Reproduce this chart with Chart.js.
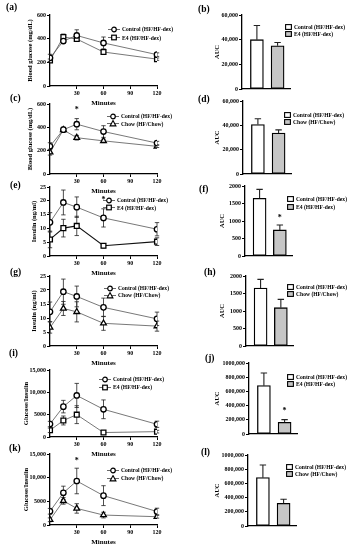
<!DOCTYPE html>
<html lang="en">
<head>
<meta charset="UTF-8">
<title>Glucose and insulin tolerance panels</title>
<script src="https://cdn.jsdelivr.net/npm/chart.js"></script>
<style>
  body { margin: 0; background: #fff; font-family: 'Liberation Serif', serif; }
  #fig { position: relative; width: 355px; height: 550px; overflow: hidden; }
  #fig canvas { position: absolute; }
  .tag { position: absolute; font-weight: bold; font-size: 9.5px; line-height: 1; }
  .leg { position: absolute; font-weight: bold; font-size: 5.6px; white-space: nowrap; }
  .leg div { display: flex; align-items: center; }
  .leg svg { margin-right: 2px; flex: none; }
</style>
</head>
<body>
<div id="fig"></div>
<script>
// time axis
const minutes = [0, 15, 30, 60, 120];
const minuteTicks = [30, 60, 90, 120];
const groups = [1, 2];

// blood glucose (mg/dL), mean and SEM
const glucoseControl = [238, 380, 427, 364, 265];
const glucoseControlErr = [30, 20, 48, 50, 15];
const glucoseE4 = [216, 414, 397, 287, 227];
const glucoseE4Err = [12, 25, 20, 20, 10];
const glucoseChow = [187, 378, 311, 284, 237];
const glucoseChowErr = [25, 12, 20, 15, 10];

// insulin (ng/ml)
const insulinControl = [12.2, 19.4, 17.7, 13.8, 9.7];
const insulinControlErr = [3.5, 4.5, 3.7, 3.3, 2.4];
const insulinE4 = [6.0, 10.1, 10.9, 3.7, 5.2];
const insulinE4Err = [3.0, 3.2, 3.5, 0.8, 1.4];
const insulinChow = [6.6, 13.4, 12.2, 8.1, 7.1];
const insulinChowErr = [2.0, 2.5, 3.6, 2.5, 1.8];

// glucose x insulin
const ratioControl = [2900, 6800, 9300, 6200, 2850];
const ratioControlErr = [600, 1400, 2700, 2100, 700];
const ratioE4 = [1500, 3700, 5000, 1000, 1200];
const ratioE4Err = [500, 1000, 2000, 300, 300];
const ratioChow = [1100, 5100, 3500, 2100, 1750];
const ratioChowErr = [400, 700, 1000, 600, 300];

// AUC bars: [control, treatment]
const aucGlucoseE4 = [40000, 35000];
const aucGlucoseE4Err = [11500, 2700];
const aucGlucoseChow = [40700, 33600];
const aucGlucoseChowErr = [4700, 2700];
const aucInsulinE4 = [1650, 745];
const aucInsulinE4Err = [255, 140];
const aucInsulinChow = [1655, 1095];
const aucInsulinChowErr = [250, 238];
const aucRatioE4 = [681000, 164000];
const aucRatioE4Err = [178000, 38000];
const aucRatioChow = [681000, 319000];
const aucRatioChowErr = [178000, 57000];

const CONTROL = 'Control (HF/HF-dex)';
const E4 = 'E4 (HF/HF-dex)';
const CHOW = 'Chow (HF/Chow)';

const SERIF = "'Liberation Serif', 'Times New Roman', serif";
const tickFont = { family: SERIF, size: 6, weight: 'bold' };
const titleFont = { family: SERIF, size: 6.5, weight: 'bold' };

const fig = document.getElementById('fig');

function makeCanvas(left, top, w, h) {
  const c = document.createElement('canvas');
  c.width = w; c.height = h;
  c.style.left = left + 'px';
  c.style.top = top + 'px';
  fig.appendChild(c);
  return c;
}

// error bars drawn through the chart's own y scale
function drawErrors(chart, both) {
  const { ctx, scales: { y } } = chart;
  ctx.save();
  ctx.strokeStyle = '#222';
  ctx.lineWidth = both ? 0.8 : 1.1;
  chart.data.datasets.forEach((ds, i) => {
    if (!ds.err) return;
    const meta = chart.getDatasetMeta(i);
    meta.data.forEach((el, j) => {
      const v = ds.data[j].y, e = ds.err[j];
      const x = el.x;
      const yTop = y.getPixelForValue(v + e);
      const yBot = both ? y.getPixelForValue(v - e) : y.getPixelForValue(v);
      const cap = both ? 2.2 : 3.2;
      ctx.beginPath();
      ctx.moveTo(x, yBot); ctx.lineTo(x, yTop);
      ctx.moveTo(x - cap, yTop); ctx.lineTo(x + cap, yTop);
      if (both) { ctx.moveTo(x - cap, yBot); ctx.lineTo(x + cap, yBot); }
      ctx.stroke();
    });
  });
  ctx.restore();
}

const errorBars = {
  id: 'errorBars',
  beforeDatasetsDraw(chart) { if (chart.config.type === 'line') drawErrors(chart, true); },
  afterDatasetsDraw(chart) { if (chart.config.type === 'bar') drawErrors(chart, false); }
};

const marks = {
  id: 'marks',
  afterDatasetsDraw(chart, args, opts) {
    const pts = opts.points || [];
    const { ctx, scales: { x, y } } = chart;
    ctx.save();
    ctx.fillStyle = '#000';
    ctx.font = 'bold 8px ' + SERIF;
    ctx.textAlign = 'center';
    ctx.textBaseline = 'middle';
    pts.forEach(p => ctx.fillText('*', x.getPixelForValue(p[0]), y.getPixelForValue(p[1])));
    ctx.restore();
  }
};

Chart.register(errorBars, marks);

function yAxis(p, width) {
  return {
    min: 0, max: p.max,
    afterFit: s => { s.width = width; },
    ticks: { stepSize: p.step, callback: p.fmt, font: tickFont, color: '#000', padding: 1 },
    grid: { display: true, drawOnChartArea: false, drawTicks: true, tickLength: 3, tickColor: '#000', tickWidth: 1 },
    border: { color: '#000', width: 1.3 },
    title: { display: true, text: p.yTitle, font: titleFont, color: '#000',
             padding: { top: p.titleX - 4, bottom: 0 } }
  };
}

function lineChart(p) {
  const padTop = 10, xH = 24, W = 178;
  const H = p.bottom - p.top + padTop + xH;
  const cv = makeCanvas(0, p.top - padTop, W, H);
  new Chart(cv, {
    type: 'line',
    data: {
      datasets: p.series.map(s => ({
        label: s.label,
        data: minutes.map((m, i) => ({ x: m, y: s.data[i] })),
        err: s.err,
        borderColor: s.line || '#555',
        borderWidth: s.lineWidth || 0.8,
        pointStyle: s.shape,
        pointRadius: s.shape === 'rect' ? 3.4 : (s.shape === 'triangle' ? 3.3 : 2.7),
        pointBorderColor: '#000',
        pointBackgroundColor: '#fff',
        pointBorderWidth: 1.3,
        tension: 0
      }))
    },
    options: {
      responsive: false, animation: false, events: [],
      layout: { padding: { top: padTop, right: W - 157, left: 0, bottom: 0 } },
      plugins: { legend: { display: false }, tooltip: { enabled: false }, marks: { points: p.stars || [] } },
      scales: {
        x: {
          type: 'linear', min: 0, max: 120,
          afterBuildTicks: s => { s.ticks = minuteTicks.map(v => ({ value: v })); },
          afterFit: s => { s.height = xH; },
          ticks: { font: tickFont, color: '#000', padding: 1, maxRotation: 0, autoSkip: false },
          grid: { display: true, drawOnChartArea: false, drawTicks: true, tickLength: 3, tickColor: '#000', tickWidth: 1 },
          border: { color: '#000', width: 1.3 },
          title: { display: true, text: 'Minutes', font: { family: SERIF, size: 7, weight: 'bold' }, color: '#000', padding: { top: 0, bottom: 3 } }
        },
        y: yAxis(p, 50)
      }
    }
  });
}

function barChart(p) {
  const padTop = 10, padBot = 5, W = 175;
  const H = p.bottom - p.top + padTop + padBot;
  const cv = makeCanvas(180, p.top - padTop, W, H);
  new Chart(cv, {
    type: 'bar',
    data: {
      datasets: [{
        data: groups.map((g, i) => ({ x: g, y: p.values[i] })),
        err: p.err,
        backgroundColor: ['#fff', '#c6c6c6'],
        borderColor: '#000',
        borderWidth: 1.3,
        borderSkipped: false,
        barThickness: 13
      }]
    },
    options: {
      responsive: false, animation: false, events: [],
      layout: { padding: { top: padTop, right: 355 - p.xEnd, left: 0, bottom: padBot } },
      plugins: { legend: { display: false }, tooltip: { enabled: false }, marks: { points: p.stars || [] } },
      scales: {
        x: {
          type: 'linear', min: 0.28, max: 2.6, offset: false,
          afterFit: s => { s.height = 0; },
          ticks: { display: false },
          grid: { display: true, offset: false, drawOnChartArea: false, drawTicks: false },
          border: { color: '#000', width: 1.3 }
        },
        y: yAxis(p, p.axisX - 180)
      }
    }
  });
}

function tag(text, x, y) {
  const d = document.createElement('div');
  d.className = 'tag';
  d.textContent = text;
  d.style.left = x + 'px';
  d.style.top = y + 'px';
  fig.appendChild(d);
}

const shapes = {
  circle: '<circle cx="6" cy="3.5" r="2.3" fill="#fff" stroke="#000" stroke-width="1.2"/>',
  rect: '<rect x="3.7" y="1.2" width="4.6" height="4.6" fill="#fff" stroke="#000" stroke-width="1.2"/>',
  triangle: '<polygon points="6,0.6 8.9,5.9 3.1,5.9" fill="#fff" stroke="#000" stroke-width="1.1"/>'
};

function legend(x, y, gap, rows) {
  const d = document.createElement('div');
  d.className = 'leg';
  d.style.left = x + 'px';
  d.style.top = (y - gap / 2) + 'px';
  rows.forEach(r => {
    const row = document.createElement('div');
    row.style.height = gap + 'px';
    let svg;
    if (r.fill) {
      svg = '<svg width="7" height="6"><rect x="0.6" y="0.6" width="5.8" height="4.8" fill="' + r.fill + '" stroke="#000" stroke-width="1.1"/></svg>';
    } else {
      svg = '<svg width="12" height="7"><line x1="0" y1="3.5" x2="12" y2="3.5" stroke="#444" stroke-width="0.8"/>' + shapes[r.shape] + '</svg>';
    }
    row.innerHTML = svg;
    const t = document.createElement('span');
    t.textContent = r.label;
    row.appendChild(t);
    d.appendChild(row);
  });
  fig.appendChild(d);
}

const plain = v => String(v);
const comma = v => v.toLocaleString('en-US');
const ratioFmt = v => (v >= 10000 ? v.toLocaleString('en-US') : String(v));
const bigFmt = v => (v === 1000000 ? '1000,000' : v.toLocaleString('en-US'));

// left column: time courses
lineChart({ top: 15, bottom: 86, max: 600, step: 200, fmt: plain, yTitle: 'Blood glucose (mg/dL)', titleX: 30,
  series: [
    { label: CONTROL, data: glucoseControl, err: glucoseControlErr, shape: 'circle' },
    { label: E4, data: glucoseE4, err: glucoseE4Err, shape: 'rect' }
  ] });
lineChart({ top: 104, bottom: 174, max: 600, step: 200, fmt: plain, yTitle: 'Blood glucose (mg/dL)', titleX: 30,
  stars: [[30, 545]],
  series: [
    { label: CONTROL, data: glucoseControl, err: glucoseControlErr, shape: 'circle' },
    { label: CHOW, data: glucoseChow, err: glucoseChowErr, shape: 'triangle' }
  ] });
lineChart({ top: 187, bottom: 256, max: 25, step: 5, fmt: plain, yTitle: 'Insulin (ng/ml)', titleX: 34,
  stars: [[60, 20.3]],
  series: [
    { label: CONTROL, data: insulinControl, err: insulinControlErr, shape: 'circle' },
    { label: E4, data: insulinE4, err: insulinE4Err, shape: 'rect', line: '#111', lineWidth: 1.1 }
  ] });
lineChart({ top: 276, bottom: 346, max: 25, step: 5, fmt: plain, yTitle: 'Insulin (ng/ml)', titleX: 34,
  series: [
    { label: CONTROL, data: insulinControl, err: insulinControlErr, shape: 'circle' },
    { label: CHOW, data: insulinChow, err: insulinChowErr, shape: 'triangle' }
  ] });
lineChart({ top: 370, bottom: 437, max: 15000, step: 5000, fmt: ratioFmt, yTitle: 'Glucose/Insulin', titleX: 26,
  series: [
    { label: CONTROL, data: ratioControl, err: ratioControlErr, shape: 'circle' },
    { label: E4, data: ratioE4, err: ratioE4Err, shape: 'rect' }
  ] });
lineChart({ top: 454, bottom: 525, max: 15000, step: 5000, fmt: ratioFmt, yTitle: 'Glucose/Insulin', titleX: 26,
  stars: [[30, 13600]],
  series: [
    { label: CONTROL, data: ratioControl, err: ratioControlErr, shape: 'circle' },
    { label: CHOW, data: ratioChow, err: ratioChowErr, shape: 'triangle' }
  ] });

// right column: AUC bars
barChart({ top: 15, bottom: 89, axisX: 242, xEnd: 290, max: 60000, step: 20000, fmt: comma, yTitle: 'AUC', titleX: 37,
  values: aucGlucoseE4, err: aucGlucoseE4Err });
barChart({ top: 101, bottom: 174, axisX: 243, xEnd: 291, max: 60000, step: 20000, fmt: comma, yTitle: 'AUC', titleX: 37,
  values: aucGlucoseChow, err: aucGlucoseChowErr });
barChart({ top: 186, bottom: 256, axisX: 245, xEnd: 292, max: 2000, step: 500, fmt: plain, yTitle: 'AUC', titleX: 42,
  values: aucInsulinE4, err: aucInsulinE4Err, stars: [[2, 1076]] });
barChart({ top: 276, bottom: 346, axisX: 246, xEnd: 293, max: 2000, step: 500, fmt: plain, yTitle: 'AUC', titleX: 42,
  values: aucInsulinChow, err: aucInsulinChowErr });
barChart({ top: 363, bottom: 434, axisX: 249, xEnd: 297, max: 1000000, step: 200000, fmt: bigFmt, yTitle: 'AUC', titleX: 37,
  values: aucRatioE4, err: aucRatioE4Err, stars: [[2, 319000]] });
barChart({ top: 455, bottom: 526, axisX: 248, xEnd: 296, max: 1000000, step: 200000, fmt: bigFmt, yTitle: 'AUC', titleX: 37,
  values: aucRatioChow, err: aucRatioChowErr });

// panel letters
tag('(a)', 6, 3); tag('(b)', 198, 5);
tag('(c)', 10, 94); tag('(d)', 198, 95);
tag('(e)', 10, 181); tag('(f)', 199, 185);
tag('(g)', 10, 268); tag('(h)', 204, 268);
tag('(i)', 9, 349); tag('(j)', 205, 354);
tag('(k)', 9, 444); tag('(l)', 201, 448);

// legends
const ctrlE4 = [{ label: CONTROL, shape: 'circle' }, { label: E4, shape: 'rect' }];
const ctrlChow = [{ label: CONTROL, shape: 'circle' }, { label: CHOW, shape: 'triangle' }];
legend(108, 29, 8.5, ctrlE4);
legend(107, 116, 7.5, ctrlChow);
legend(103, 200, 7.5, ctrlE4);
legend(104, 288, 7, ctrlChow);
legend(99, 379, 8, ctrlE4);
legend(107, 470, 8, ctrlChow);

const barE4 = [{ label: CONTROL, fill: '#fff' }, { label: E4, fill: '#c6c6c6' }];
const barChow = [{ label: CONTROL, fill: '#fff' }, { label: CHOW, fill: '#c6c6c6' }];
legend(285, 27, 6.5, barE4);
legend(284, 115, 7, barChow);
legend(287, 199, 7.5, barE4);
legend(287, 287, 7, barChow);
legend(287, 377, 6.5, barE4);
legend(286, 467, 6.5, barChow);
</script>
</body>
</html>
